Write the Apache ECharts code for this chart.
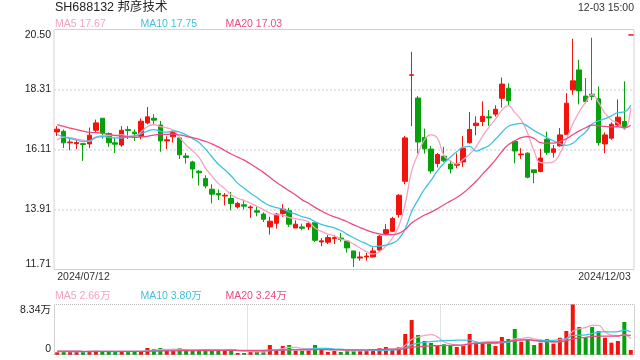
<!DOCTYPE html>
<html><head><meta charset="utf-8">
<script src="https://cdn.jsdelivr.net/npm/echarts@6/dist/echarts.min.js"></script>
<style>html,body{margin:0;padding:0;background:#fff}#c{width:640px;height:360px}</style>
</head><body><div id="c"></div>
<script>
// ---- data ----
const dates = [
 '2024/07/12','2024/07/15','2024/07/16','2024/07/17','2024/07/18','2024/07/19','2024/07/22','2024/07/23','2024/07/24','2024/07/25','2024/07/26','2024/07/29','2024/07/30','2024/07/31',
 '2024/08/01','2024/08/02','2024/08/05','2024/08/06','2024/08/07','2024/08/08','2024/08/09','2024/08/12','2024/08/13','2024/08/14','2024/08/15','2024/08/16','2024/08/19','2024/08/20','2024/08/21','2024/08/22','2024/08/23',
 '2024/09/03','2024/09/04','2024/09/05','2024/09/06','2024/09/09','2024/09/10','2024/09/11','2024/09/12','2024/09/13','2024/09/18','2024/09/19','2024/09/20','2024/09/23','2024/09/24','2024/09/25','2024/09/26','2024/09/27','2024/09/30',
 '2024/10/08','2024/10/09','2024/10/10','2024/10/11','2024/10/14','2024/10/15','2024/10/16','2024/10/17','2024/10/18','2024/10/21','2024/10/22','2024/10/23','2024/10/24','2024/10/25','2024/10/28','2024/10/29','2024/10/30','2024/10/31',
 '2024/11/01','2024/11/04','2024/11/05','2024/11/06','2024/11/07','2024/11/08','2024/11/11','2024/11/12','2024/11/13','2024/11/14','2024/11/15','2024/11/18','2024/11/19','2024/11/20','2024/11/21','2024/11/22','2024/11/25','2024/11/26','2024/11/27','2024/11/28','2024/11/29',
 '2024/12/02','2024/12/03'
];
const opens = [16.75,16.77,16.35,16.32,16.32,16.31,16.81,17.25,16.69,16.35,
 16.27,16.84,16.74,16.59,17.08,17.25,17.00,16.42,16.57,16.53,
 15.87,15.65,15.31,15.04,14.65,14.49,14.40,14.31,14.00,14.08,
 13.97,13.86,13.74,13.27,13.40,13.76,13.86,13.23,13.27,13.27,
 13.42,12.72,12.71,12.84,12.86,12.75,12.39,12.13,12.17,12.17,
 12.42,13.03,13.11,13.72,14.94,18.82,17.99,16.54,16.12,15.59,
 15.86,15.57,15.53,15.65,16.35,16.98,17.13,17.30,17.40,17.98,
 18.35,16.40,15.91,15.97,15.36,15.30,16.48,16.00,16.24,16.66,
 18.29,19.02,18.06,18.13,17.96,16.31,16.52,17.00,17.13,20.30];
const closes = [16.85,16.35,16.38,16.36,16.29,16.63,17.08,16.71,16.35,16.30,
 16.81,16.80,16.68,17.14,17.30,17.18,16.42,16.46,16.73,15.91,
 15.81,15.39,15.25,14.77,14.47,14.44,14.43,14.13,14.13,14.03,
 14.00,13.81,13.55,13.48,13.74,13.92,13.37,13.37,13.22,13.40,
 12.78,12.76,12.88,12.88,12.81,12.50,12.13,12.17,12.20,12.39,
 12.93,13.17,13.58,14.43,16.53,18.84,16.38,16.13,15.32,15.92,
 15.69,15.39,15.57,16.15,16.84,17.07,17.32,17.26,17.58,18.50,
 17.89,16.05,15.94,15.09,15.26,15.79,16.00,16.13,16.64,17.80,
 18.62,18.25,17.86,18.05,16.36,16.64,17.03,17.29,16.92,20.30];
const lows = [16.60,16.16,16.08,16.12,15.69,16.16,16.74,16.51,16.20,15.98,
 16.20,16.49,16.42,16.48,17.03,16.99,16.02,16.12,16.36,15.76,
 15.59,15.05,14.79,14.68,14.13,14.25,14.06,13.88,13.94,13.91,
 13.60,13.66,13.45,12.99,13.21,13.64,13.27,13.23,13.15,13.15,
 12.72,12.56,12.64,12.64,12.73,12.33,11.80,12.03,12.03,12.15,
 12.39,12.97,13.09,13.61,14.83,16.96,15.96,15.96,15.23,15.45,
 15.65,15.23,15.42,15.47,16.32,16.63,16.96,16.97,17.31,17.64,
 17.72,15.60,15.76,15.05,14.87,15.27,15.91,15.81,16.21,16.64,
 18.11,17.76,17.80,17.91,16.25,15.97,16.46,16.98,16.82,20.30];
const highs = [16.96,16.84,16.48,16.45,16.33,16.91,17.20,17.25,16.73,16.54,
 16.96,16.96,16.84,17.24,17.66,17.40,17.15,16.59,16.81,16.53,
 15.98,15.69,15.35,15.16,14.83,14.64,14.51,14.55,14.19,14.27,
 14.06,14.03,13.80,13.64,13.78,14.10,13.97,13.51,13.39,13.48,
 13.42,12.86,12.97,12.98,13.05,12.76,12.39,12.36,12.32,12.52,
 12.97,13.37,13.64,14.47,16.60,19.68,18.06,16.87,16.23,15.98,
 16.20,15.69,15.96,16.60,17.48,17.32,17.87,17.55,17.72,18.74,
 18.53,16.40,16.15,16.00,15.36,16.13,16.76,16.27,16.89,18.17,
 20.16,19.39,18.72,20.20,18.41,16.73,17.10,17.94,18.60,20.30];
// volume in 万
const volumes = [0.40,0.61,0.50,0.55,0.50,0.55,0.66,0.50,0.50,0.50,
 0.55,0.61,0.55,0.55,1.11,0.94,1.11,0.66,0.72,1.06,
 0.66,0.66,0.72,0.78,0.72,0.83,0.83,0.78,0.28,0.28,
 0.50,0.55,0.61,1.61,0.83,1.44,1.61,0.66,0.66,0.66,
 1.61,0.89,0.45,0.61,0.45,0.78,0.78,0.66,0.66,0.66,
 1.06,1.28,0.89,1.23,3.44,5.76,3.27,2.28,1.94,1.56,
 1.73,1.56,1.28,1.50,3.44,2.16,2.05,1.89,1.44,2.94,
 2.61,4.27,2.16,2.44,1.61,1.99,2.61,1.83,2.82,3.94,
 8.34,4.60,2.89,4.60,3.94,2.82,1.99,2.28,5.43,0.78];
// closes / volumes before the first visible day (only used to warm up moving averages)
const priorCloses = [17.7,17.6,17.5,17.4,17.5,17.3,17.2,17.2,17.0,17.4,17.2,17.0,16.9,16.9,16.3,15.8,16.5,16.6,16.5];
const priorVolumes = [0.6,0.7,0.5,0.6,0.8,0.6,0.5,0.7,0.6,0.5,0.6,0.7,0.5,0.6,0.5,0.6,0.5,0.5,0.6];
const priceTicks = ['11.71','13.91','16.11','18.31','20.50'];
const volTicks = ['0','8.34万'];
const title = 'SH688132 邦彦技术';
const timeText = '12-03 15:00';
const priceLegend = ['MA5 17.67','MA10 17.75','MA20 17.03'];
const volLegend = ['MA5 2.66万','MA10 3.80万','MA20 3.24万'];

// ---- style ----
const RED = '#f2140c', GREEN = '#06a00c';
const C5 = '#f7a2c1', C10 = '#3cc3e2', C20 = '#ea4c82';
const FONT = 'Arial, "Liberation Sans", "Noto Sans CJK SC", sans-serif';

function movingAverage(values, warm, n) {
  const all = warm.concat(values), off = warm.length;
  return values.map((_, i) => {
    let s = 0; for (let k = 0; k < n; k++) s += all[off + i - k];
    return +(s / n).toFixed(3);
  });
}
const pMin = +priceTicks[0], pMax = +priceTicks[priceTicks.length - 1];
const pStep = (pMax - pMin) / (priceTicks.length - 1);
function priceLabel(v) {
  let best = priceTicks[0], d = 1e9;
  priceTicks.forEach(t => { const dd = Math.abs(+t - v); if (dd < d) { d = dd; best = t; } });
  return best;
}
const vMax = 8.34;

const chart = echarts.init(document.getElementById('c'));
const n = dates.length;
const candle = dates.map((d, i) => [opens[i], closes[i], lows[i], highs[i]]);
const volData = volumes.map((v, i) => {
  const up = closes[i] > opens[i] || (closes[i] === opens[i] && (i === 0 || closes[i] >= closes[i - 1]));
  return { value: v, itemStyle: { color: up ? RED : GREEN } };
});
const txt = (x, y, text, fill, size, align) => ({
  type: 'text', silent: true,
  style: { x, y, text, fill, font: size + 'px ' + FONT, align: align || 'left', verticalAlign: 'middle' }
});

chart.setOption({
  animation: false,
  backgroundColor: '#fff',
  grid: [
    { left: 54, right: 6, top: 29.5, height: 240, show: true, borderColor: '#d2d2d2', borderWidth: 1, backgroundColor: 'transparent' },
    { left: 54, right: 6, top: 304.5, height: 50.2 }
  ],
  xAxis: [
    { type: 'category', gridIndex: 0, data: dates, boundaryGap: true,
      axisLine: { show: false }, axisTick: { show: false }, splitLine: { show: false },
      axisLabel: { interval: (i) => i === 0 || i === n - 1, alignMinLabel: 'left', alignMaxLabel: 'right',
        margin: 2, fontSize: 10.5, color: '#333', fontFamily: FONT } },
    { type: 'category', gridIndex: 1, data: dates, boundaryGap: true,
      axisLine: { show: true, lineStyle: { color: '#bbb', type: [1, 1] } }, axisTick: { show: false },
      axisLabel: { show: false },
      splitLine: { show: true, interval: (i) => i === 30 || i === 60, lineStyle: { color: '#c8c8c8', type: [1, 1] } } }
  ],
  yAxis: [
    { type: 'value', gridIndex: 0, min: pMin, max: pMax, interval: pStep, scale: true,
      axisLine: { show: false }, axisTick: { show: false },
      axisLabel: { formatter: priceLabel, fontSize: 10.5, color: '#222', margin: 3, fontFamily: FONT,
        verticalAlignMinLabel: 'bottom', verticalAlignMaxLabel: 'top' },
      splitLine: { show: true, showMinLine: false, showMaxLine: false, lineStyle: { color: '#e4e4e4', width: 2, type: [2, 2] } } },
    { type: 'value', gridIndex: 1, min: 0, max: vMax, interval: vMax,
      axisLine: { show: true, lineStyle: { color: '#d2d2d2' } }, axisTick: { show: false },
      axisLabel: { formatter: (v) => v === 0 ? volTicks[0] : volTicks[1], fontSize: 10.5, color: '#222', margin: 3, fontFamily: FONT,
        verticalAlignMinLabel: 'bottom', verticalAlignMaxLabel: 'top' },
      splitLine: { show: true, lineStyle: { color: '#bbb', type: [1, 1] } } },
    { type: 'value', gridIndex: 1, position: 'right', min: 0, max: vMax,
      axisLine: { show: true, lineStyle: { color: '#d2d2d2' } }, axisTick: { show: false },
      axisLabel: { show: false }, splitLine: { show: false } }
  ],
  series: [
    { type: 'candlestick', xAxisIndex: 0, yAxisIndex: 0, data: candle, barWidth: 5,
      itemStyle: { color: RED, color0: GREEN, borderColor: RED, borderColor0: GREEN, borderColorDoji: RED, borderWidth: 1 } },
    { type: 'line', xAxisIndex: 0, yAxisIndex: 0, data: movingAverage(closes, priorCloses, 5), smooth: true, showSymbol: false,
      lineStyle: { color: C5, width: 1.3 }, z: 3 },
    { type: 'line', xAxisIndex: 0, yAxisIndex: 0, data: movingAverage(closes, priorCloses, 10), smooth: true, showSymbol: false,
      lineStyle: { color: C10, width: 1.3 }, z: 3 },
    { type: 'line', xAxisIndex: 0, yAxisIndex: 0, data: movingAverage(closes, priorCloses, 20), smooth: true, showSymbol: false,
      lineStyle: { color: C20, width: 1.3 }, z: 3 },
    { type: 'bar', xAxisIndex: 1, yAxisIndex: 1, data: volData, barWidth: 4 },
    { type: 'line', xAxisIndex: 1, yAxisIndex: 1, data: movingAverage(volumes, priorVolumes, 5), smooth: true, showSymbol: false,
      lineStyle: { color: C5, width: 1.3 }, z: 3 },
    { type: 'line', xAxisIndex: 1, yAxisIndex: 1, data: movingAverage(volumes, priorVolumes, 10), smooth: true, showSymbol: false,
      lineStyle: { color: C10, width: 1.3 }, z: 3 },
    { type: 'line', xAxisIndex: 1, yAxisIndex: 1, data: movingAverage(volumes, priorVolumes, 20), smooth: true, showSymbol: false,
      lineStyle: { color: C20, width: 1.3 }, z: 3 }
  ],
  graphic: [
    txt(55, 8, title, '#222', 12.5),
    txt(634, 8.5, timeText, '#333', 10.5, 'right'),
    txt(55, 24, priceLegend[0], C5, 10.5),
    txt(140.5, 24, priceLegend[1], C10, 10.5),
    txt(225.5, 24, priceLegend[2], C20, 10.5),
    txt(55, 296, volLegend[0], C5, 10.5),
    txt(140.5, 296, volLegend[1], C10, 10.5),
    txt(225.5, 296, volLegend[2], C20, 10.5)
  ]
});
</script></body></html>
